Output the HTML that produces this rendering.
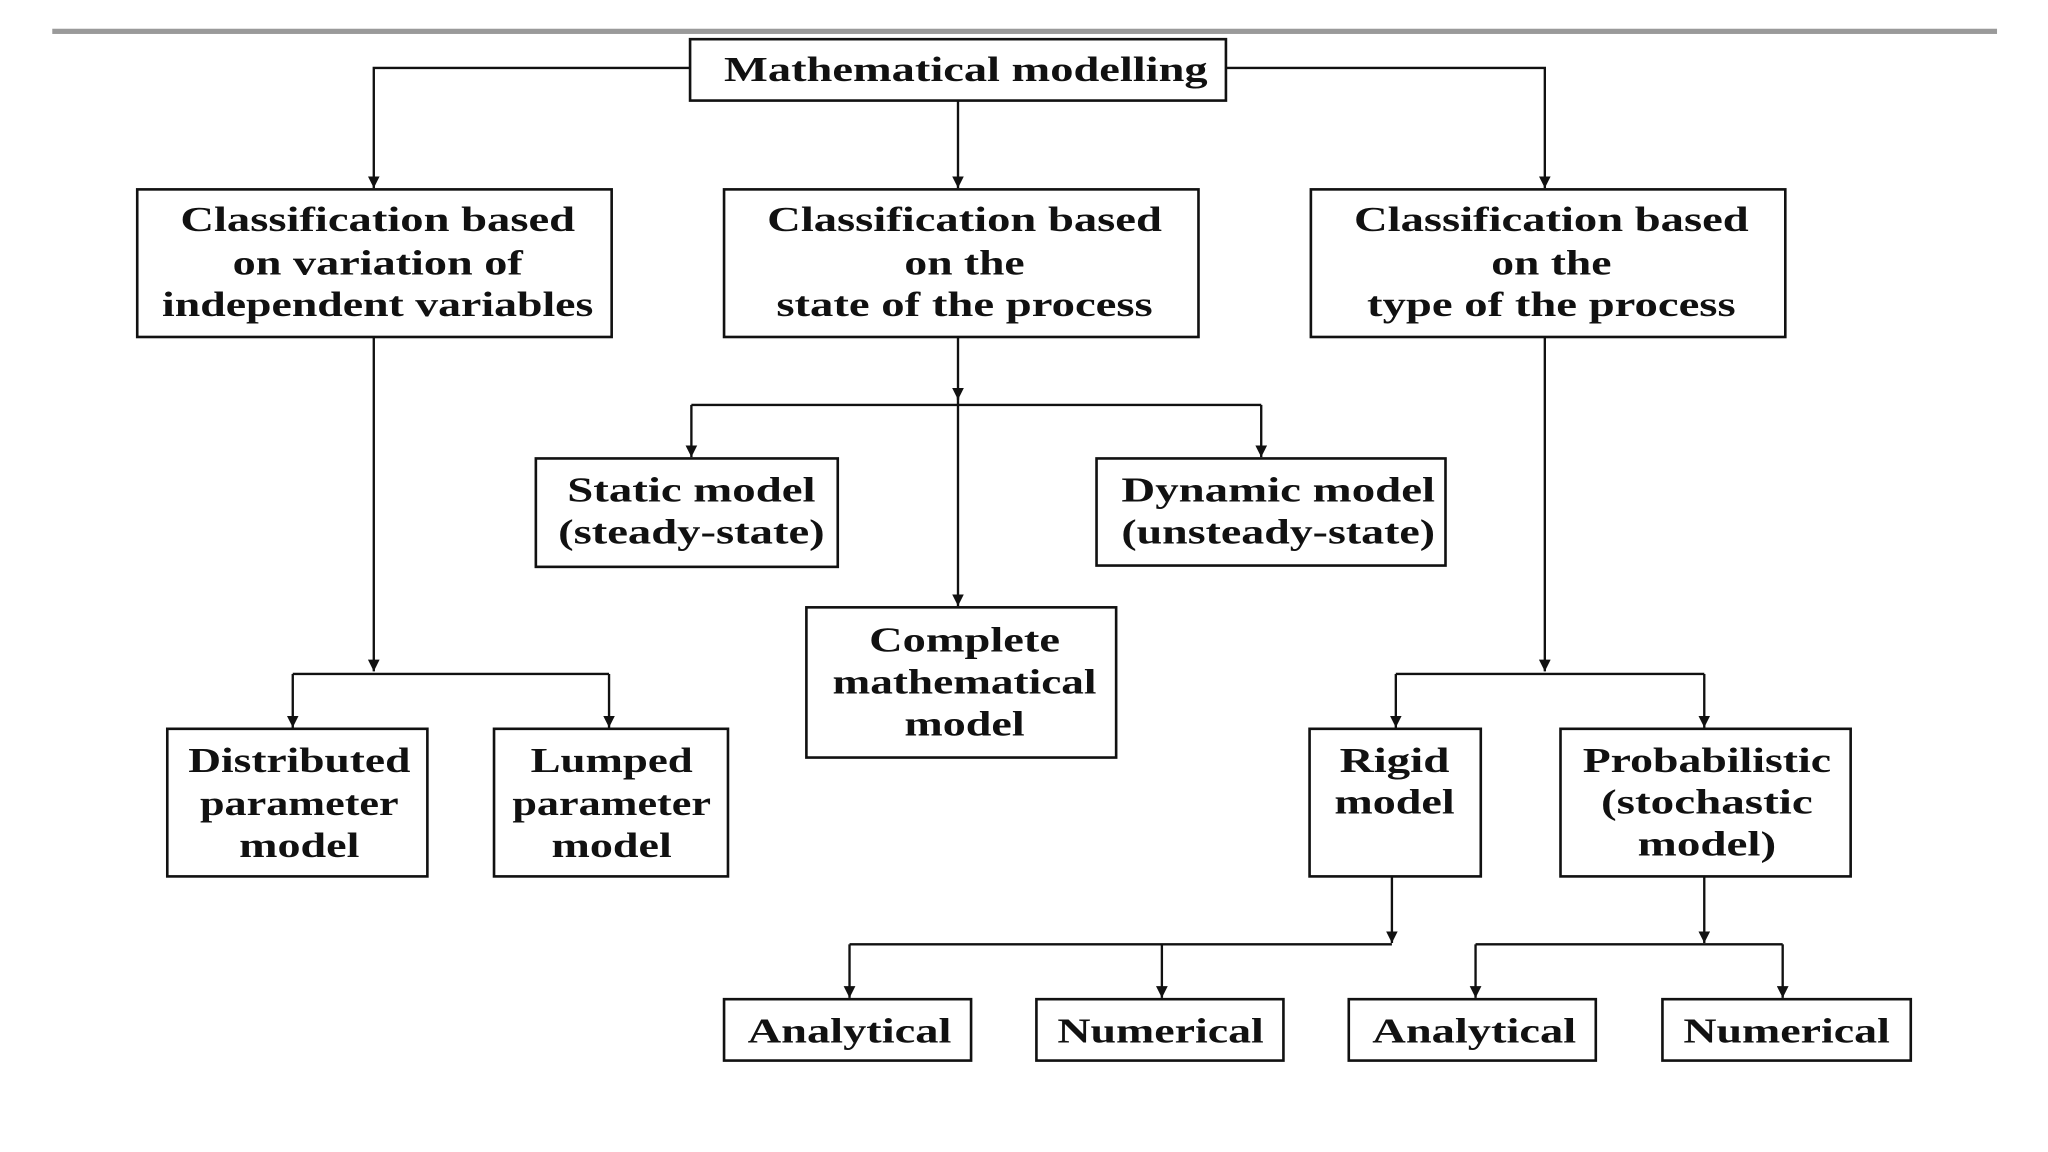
<!DOCTYPE html>
<html><head><meta charset="utf-8"><style>html,body{margin:0;padding:0;background:#fff;}svg{display:block;}</style></head>
<body>
<svg width="2048" height="1152" viewBox="0 0 1567 882" preserveAspectRatio="none" xmlns="http://www.w3.org/2000/svg">
<defs><marker id="a" viewBox="0 0 10 10" refX="10" refY="5" markerWidth="9" markerHeight="9" markerUnits="userSpaceOnUse" orient="auto"><path d="M0,0 L10,5 L0,10 z" fill="#111"/></marker></defs>
<rect x="40" y="22" width="1488" height="4" fill="#9a9a9a"/>
<g fill="none" stroke="#111" stroke-width="2">
<rect x="528" y="30" width="410" height="47"/>
<rect x="105" y="145" width="363" height="113"/>
<rect x="554" y="145" width="363" height="113"/>
<rect x="1003" y="145" width="363" height="113"/>
<rect x="128" y="558" width="199" height="113"/>
<rect x="378" y="558" width="179" height="113"/>
<rect x="410" y="351" width="231" height="83"/>
<rect x="839" y="351" width="267" height="82"/>
<rect x="617" y="465" width="237" height="115"/>
<rect x="1002" y="558" width="131" height="113"/>
<rect x="1194" y="558" width="222" height="113"/>
<rect x="554" y="765" width="189" height="47"/>
<rect x="793" y="765" width="189" height="47"/>
<rect x="1032" y="765" width="189" height="47"/>
<rect x="1272" y="765" width="190" height="47"/>
</g>
<g fill="none" stroke="#111" stroke-width="1.8">
<path d="M528,52 H286 V144" marker-end="url(#a)"/>
<path d="M938,52 H1182 V144" marker-end="url(#a)"/>
<path d="M733,77 V144" marker-end="url(#a)"/>
<path d="M286,258 V514" marker-end="url(#a)"/>
<path d="M224,516 H466"/>
<path d="M224,516 V557" marker-end="url(#a)"/>
<path d="M466,516 V557" marker-end="url(#a)"/>
<path d="M733,258 V306" marker-end="url(#a)"/>
<path d="M733,300 V464" marker-end="url(#a)"/>
<path d="M529,310 H965"/>
<path d="M529,310 V350" marker-end="url(#a)"/>
<path d="M965,310 V350" marker-end="url(#a)"/>
<path d="M1182,258 V514" marker-end="url(#a)"/>
<path d="M1068,516 H1304"/>
<path d="M1068,516 V557" marker-end="url(#a)"/>
<path d="M1304,516 V557" marker-end="url(#a)"/>
<path d="M1065,671 V722" marker-end="url(#a)"/>
<path d="M650,723 H1065"/>
<path d="M650,723 V764" marker-end="url(#a)"/>
<path d="M889,723 V764" marker-end="url(#a)"/>
<path d="M1304,671 V722" marker-end="url(#a)"/>
<path d="M1129,723 H1364"/>
<path d="M1129,723 V764" marker-end="url(#a)"/>
<path d="M1364,723 V764" marker-end="url(#a)"/>
</g>
<g font-family="'Liberation Serif', serif" font-size="27" font-weight="bold" fill="#111" text-anchor="middle">
<text x="739" y="62" textLength="370" lengthAdjust="spacingAndGlyphs">Mathematical modelling</text>
<text x="289" y="177" textLength="302" lengthAdjust="spacingAndGlyphs">Classification based</text>
<text x="289" y="210" textLength="222" lengthAdjust="spacingAndGlyphs">on variation of</text>
<text x="289" y="242" textLength="330" lengthAdjust="spacingAndGlyphs">independent variables</text>
<text x="738" y="177" textLength="302" lengthAdjust="spacingAndGlyphs">Classification based</text>
<text x="738" y="210" textLength="92" lengthAdjust="spacingAndGlyphs">on the</text>
<text x="738" y="242" textLength="288" lengthAdjust="spacingAndGlyphs">state of the process</text>
<text x="1187" y="177" textLength="302" lengthAdjust="spacingAndGlyphs">Classification based</text>
<text x="1187" y="210" textLength="92" lengthAdjust="spacingAndGlyphs">on the</text>
<text x="1187" y="242" textLength="282" lengthAdjust="spacingAndGlyphs">type of the process</text>
<text x="529" y="384" textLength="190" lengthAdjust="spacingAndGlyphs">Static model</text>
<text x="529" y="416" textLength="204" lengthAdjust="spacingAndGlyphs">(steady-state)</text>
<text x="978" y="384" textLength="240" lengthAdjust="spacingAndGlyphs">Dynamic model</text>
<text x="978" y="416" textLength="240" lengthAdjust="spacingAndGlyphs">(unsteady-state)</text>
<text x="738" y="499" textLength="146" lengthAdjust="spacingAndGlyphs">Complete</text>
<text x="738" y="531" textLength="202" lengthAdjust="spacingAndGlyphs">mathematical</text>
<text x="738" y="563" textLength="92" lengthAdjust="spacingAndGlyphs">model</text>
<text x="229" y="591" textLength="170" lengthAdjust="spacingAndGlyphs">Distributed</text>
<text x="229" y="624" textLength="152" lengthAdjust="spacingAndGlyphs">parameter</text>
<text x="229" y="656" textLength="92" lengthAdjust="spacingAndGlyphs">model</text>
<text x="468" y="591" textLength="124" lengthAdjust="spacingAndGlyphs">Lumped</text>
<text x="468" y="624" textLength="152" lengthAdjust="spacingAndGlyphs">parameter</text>
<text x="468" y="656" textLength="92" lengthAdjust="spacingAndGlyphs">model</text>
<text x="1067" y="591" textLength="84" lengthAdjust="spacingAndGlyphs">Rigid</text>
<text x="1067" y="623" textLength="92" lengthAdjust="spacingAndGlyphs">model</text>
<text x="1306" y="591" textLength="190" lengthAdjust="spacingAndGlyphs">Probabilistic</text>
<text x="1306" y="623" textLength="162" lengthAdjust="spacingAndGlyphs">(stochastic</text>
<text x="1306" y="655" textLength="106" lengthAdjust="spacingAndGlyphs">model)</text>
<text x="650" y="798" textLength="156" lengthAdjust="spacingAndGlyphs">Analytical</text>
<text x="888" y="798" textLength="158" lengthAdjust="spacingAndGlyphs">Numerical</text>
<text x="1128" y="798" textLength="156" lengthAdjust="spacingAndGlyphs">Analytical</text>
<text x="1367" y="798" textLength="158" lengthAdjust="spacingAndGlyphs">Numerical</text>
</g>
</svg>
</body></html>
